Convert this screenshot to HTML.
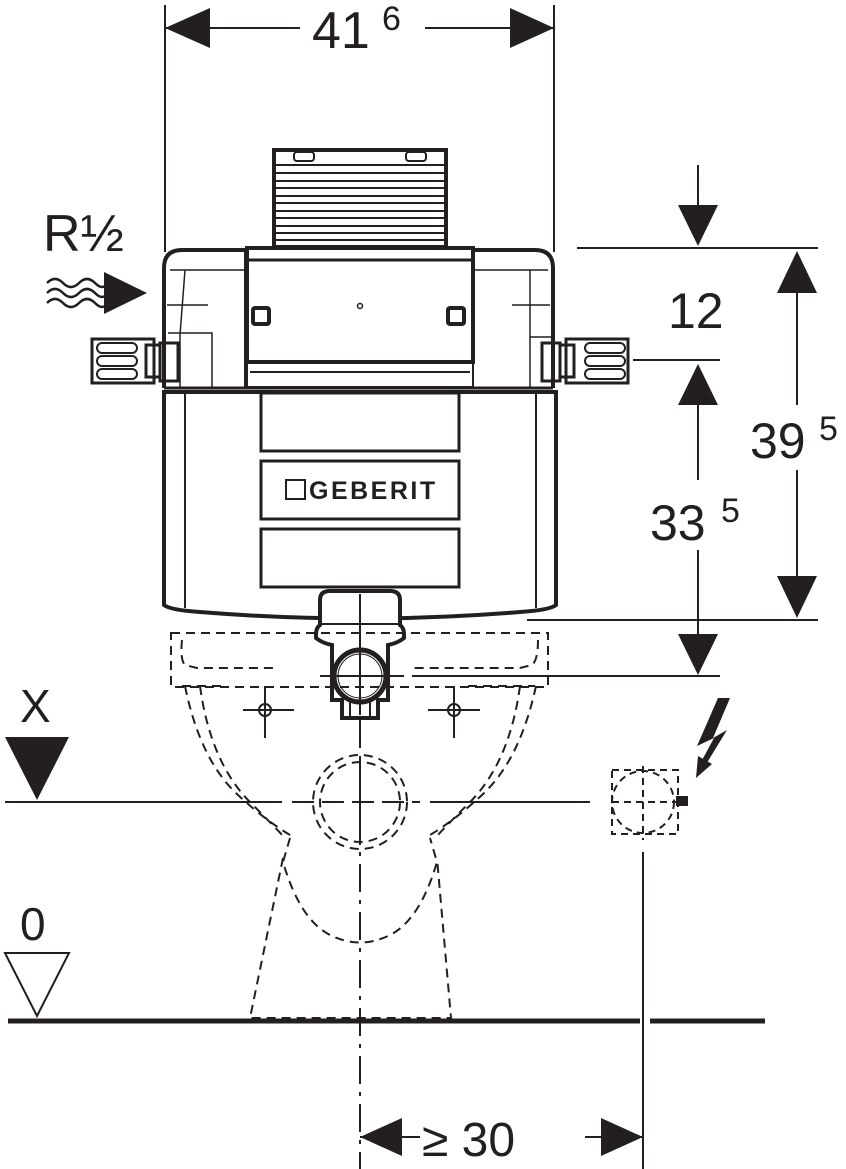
<!DOCTYPE html>
<html><head><meta charset="utf-8"><style>
html,body{margin:0;padding:0;background:#fff}
svg{display:block}
text{font-family:"Liberation Sans",sans-serif;fill:#231f20}
</style></head><body>
<svg width="846" height="1169" viewBox="0 0 846 1169" xmlns="http://www.w3.org/2000/svg">
<g stroke="#231f20" fill="none" stroke-width="2">
<line x1="165" y1="5" x2="165" y2="252"/>
<line x1="554" y1="5" x2="554" y2="252"/>
<line x1="165" y1="28" x2="300" y2="28"/>
<line x1="425" y1="28" x2="554" y2="28"/>
</g>
<polygon points="165,28 210,8 210,48" fill="#231f20"/>
<polygon points="554,28 510,8 510,48" fill="#231f20"/>
<text x="312" y="48" font-size="52">41</text><text x="382" y="30" font-size="34">6</text>

<text x="43" y="251" font-size="52">R½</text>
<g stroke="#231f20" stroke-width="2.5" fill="none">
<path d="M47,283 q8,-8 16,0 t16,0 t16,0 t12,0"/>
<path d="M47,293 q8,-8 16,0 t16,0 t16,0 t12,0"/>
<path d="M47,303 q8,-8 16,0 t16,0 t16,0 t12,0"/>
</g>
<polygon points="104,272 147,293 104,314" fill="#231f20"/>

<g stroke="#231f20" fill="none">
<rect x="274" y="150" width="172" height="97" stroke-width="4"/>
<g stroke-width="2">
<line x1="276" y1="165" x2="444" y2="165"/><line x1="276" y1="173" x2="444" y2="173"/>
<line x1="276" y1="181" x2="444" y2="181"/><line x1="276" y1="188" x2="444" y2="188"/>
<line x1="276" y1="196" x2="444" y2="196"/><line x1="276" y1="203" x2="444" y2="203"/>
<line x1="276" y1="211" x2="444" y2="211"/><line x1="276" y1="218" x2="444" y2="218"/>
<line x1="276" y1="226" x2="444" y2="226"/><line x1="276" y1="233" x2="444" y2="233"/>
<line x1="276" y1="240" x2="444" y2="240"/>
<rect x="294" y="152" width="20" height="9" rx="3"/><rect x="406" y="152" width="20" height="9" rx="3"/>
</g>
<path d="M164,388 L164,268 Q164,250 182,250 L246,250 L246,388" stroke-width="4"/>
<path d="M474,250 L535,250 Q553,250 553,268 L553,388" stroke-width="4"/>
<rect x="247" y="248" width="226" height="114" stroke-width="4"/>
<line x1="248" y1="260" x2="472" y2="260" stroke-width="3"/>
<rect x="247" y="362" width="226" height="25" stroke-width="2"/>
<line x1="250" y1="372" x2="470" y2="372" stroke-width="2"/>
<line x1="164" y1="388" x2="553" y2="388" stroke-width="3"/>
<rect x="253" y="308" width="16" height="16" stroke-width="4" rx="2"/>
<rect x="448" y="308" width="16" height="16" stroke-width="4" rx="2"/>
<circle cx="360" cy="306" r="2.5" stroke-width="1.5"/>
<g stroke-width="1.5">
<line x1="170" y1="270" x2="246" y2="270"/><line x1="474" y1="270" x2="548" y2="270"/>
<line x1="167" y1="305" x2="208" y2="305"/><line x1="512" y1="305" x2="550" y2="305"/>
<path d="M185,270 L180,335 L180,388"/><line x1="530" y1="270" x2="530" y2="388"/>
<path d="M168,333 L212,333 L212,388"/><line x1="530" y1="337" x2="552" y2="337"/>
</g>
<rect x="92" y="339" width="62" height="44" stroke-width="3"/>
<rect x="97" y="343" width="40" height="10" rx="5" stroke-width="2"/>
<rect x="97" y="356" width="40" height="10" rx="5" stroke-width="2"/>
<rect x="97" y="369" width="40" height="10" rx="5" stroke-width="2"/>
<rect x="146" y="345" width="14" height="32" stroke-width="3"/>
<rect x="160" y="343" width="18" height="38" stroke-width="3"/>
<rect x="566" y="339" width="62" height="44" stroke-width="3"/>
<rect x="585" y="343" width="40" height="10" rx="5" stroke-width="2"/>
<rect x="585" y="356" width="40" height="10" rx="5" stroke-width="2"/>
<rect x="585" y="369" width="40" height="10" rx="5" stroke-width="2"/>
<rect x="560" y="345" width="14" height="32" stroke-width="3"/>
<rect x="542" y="343" width="18" height="38" stroke-width="3"/>
<path d="M164,392 L164,605 Q170,610 200,612 Q360,625 520,612 Q550,610 556,605 L556,392 Z" stroke-width="4"/>
<line x1="185" y1="392" x2="185" y2="608" stroke-width="2"/>
<line x1="536" y1="392" x2="536" y2="608" stroke-width="2"/>
<rect x="261" y="393" width="198" height="58" stroke-width="3"/>
<rect x="261" y="461" width="198" height="58" stroke-width="3"/>
<rect x="261" y="529" width="198" height="58" stroke-width="3"/>
<rect x="286" y="480" width="19" height="19" stroke-width="2"/>
<path d="M320,625 L320,600 Q320,591 330,591 L390,591 Q400,591 400,600 L400,625 Q404,628 404,634 L404,638 Q398,643 388,645 L388,700 L378,700 L378,718 L342,718 L342,700 L332,700 L332,645 Q322,643 316,638 L316,634 Q316,628 320,625 Z" fill="#fff" stroke-width="4"/>
<line x1="320" y1="624" x2="400" y2="624" stroke-width="2"/>
<circle cx="360" cy="676" r="26" stroke-width="5"/>
<circle cx="360" cy="676" r="22" stroke-width="1"/>
<line x1="360" y1="594" x2="360" y2="715" stroke-width="2"/>
<line x1="350" y1="700" x2="350" y2="718" stroke-width="2"/>
<line x1="370" y1="700" x2="370" y2="718" stroke-width="2"/>
</g>
<text x="309" y="499" font-size="25" font-weight="bold" letter-spacing="2.5">GEBERIT</text>

<g stroke="#231f20" stroke-width="2" fill="none">
<line x1="577" y1="248" x2="818" y2="248"/>
<line x1="633" y1="360" x2="720" y2="360"/>
<line x1="527" y1="620" x2="818" y2="620"/>
<line x1="412" y1="676" x2="720" y2="676"/>
<line x1="698" y1="165" x2="698" y2="210"/>
<line x1="698" y1="400" x2="698" y2="480"/>
<line x1="698" y1="550" x2="698" y2="640"/>
<line x1="797" y1="290" x2="797" y2="405"/>
<line x1="797" y1="470" x2="797" y2="580"/>
<line x1="320" y1="676" x2="404" y2="676"/>
</g>
<polygon points="678,205 718,205 698,246" fill="#231f20"/>
<polygon points="678,405 718,405 698,364" fill="#231f20"/>
<polygon points="678,634 718,634 698,675" fill="#231f20"/>
<polygon points="777,293 817,293 797,251" fill="#231f20"/>
<polygon points="777,576 817,576 797,618" fill="#231f20"/>
<text x="668" y="328" font-size="50">12</text>
<text x="650" y="540" font-size="50">33</text><text x="721" y="522" font-size="34">5</text>
<text x="750" y="458" font-size="50">39</text><text x="819" y="440" font-size="34">5</text>

<text x="20" y="722" font-size="46">X</text>
<polygon points="5,737 69,737 37,800" fill="#231f20"/>
<text x="20" y="940" font-size="46">0</text>
<polygon points="5,953 69,953 37,1016" fill="none" stroke="#231f20" stroke-width="2"/>
<g stroke="#231f20" fill="none">
<line x1="5" y1="802" x2="282" y2="802" stroke-width="2"/>
<line x1="292" y1="802" x2="420" y2="802" stroke-width="2" stroke-dasharray="22,8"/>
<line x1="430" y1="802" x2="590" y2="802" stroke-width="2"/>
<line x1="8" y1="1021" x2="640" y2="1021" stroke-width="5"/>
<line x1="650" y1="1021" x2="765" y2="1021" stroke-width="5"/>
<line x1="360" y1="720" x2="360" y2="1169" stroke-width="2" stroke-dasharray="28,8,4,8"/>
<line x1="643" y1="852" x2="643" y2="1169" stroke-width="2"/>
<line x1="360" y1="1137" x2="420" y2="1137" stroke-width="2"/>
<line x1="585" y1="1137" x2="643" y2="1137" stroke-width="2"/>
</g>
<polygon points="360,1137 402,1118 402,1156" fill="#231f20"/>
<polygon points="643,1137 601,1118 601,1156" fill="#231f20"/>
<text x="422" y="1156" font-size="48">≥ 30</text>

<g stroke="#231f20" fill="none" stroke-width="2" stroke-dasharray="9,6">
<rect x="171" y="633" width="377" height="54"/>
<path d="M182,640 Q180,660 185,665 L197,668 L278,668"/>
<path d="M538,640 Q538,660 532,665 L520,668 L412,668"/>
<line x1="182" y1="686" x2="225" y2="686"/><line x1="468" y1="686" x2="535" y2="686"/>
<path d="M185,686 Q200,760 238,795 Q265,820 290,835"/>
<path d="M200,686 Q210,760 248,800 Q270,822 285,838"/>
<path d="M536,686 Q520,760 482,795 Q455,820 430,835"/>
<path d="M520,686 Q510,760 472,800 Q450,822 435,838"/>
<path d="M290,838 L283,862 Q300,920 330,935 Q360,950 390,935 Q420,920 437,862 L430,838"/>
<path d="M283,858 L250,1018 L451,1018 L437,858"/>
<circle cx="360" cy="802" r="40"/>
<circle cx="360" cy="802" r="47"/>
<rect x="612" y="770" width="66" height="64" stroke-dasharray="7,5"/>
<circle cx="643" cy="802" r="31" stroke-dasharray="7,5"/>
<line x1="612" y1="802" x2="678" y2="802" stroke-dasharray="7,5"/>
<line x1="643" y1="766" x2="643" y2="840" stroke-dasharray="7,5"/>
</g>
<g stroke="#231f20" stroke-width="2">
<line x1="243" y1="710" x2="294" y2="710"/><line x1="265" y1="686" x2="265" y2="738"/>
<line x1="428" y1="710" x2="480" y2="710"/><line x1="454" y1="686" x2="454" y2="738"/>
<line x1="360" y1="758" x2="360" y2="845"/>
</g>
<circle cx="265" cy="710" r="6" fill="none" stroke="#231f20" stroke-width="2"/>
<circle cx="454" cy="710" r="6" fill="none" stroke="#231f20" stroke-width="2"/>
<rect x="676" y="796" width="12" height="10" fill="#231f20"/>
<polygon points="718,698 730,698 713,738 727,730 705,766 701,762 714,738 697,746" fill="#231f20"/>
<polygon points="696,778 698,756 712,764" fill="#231f20"/>
</svg>
</body></html>
